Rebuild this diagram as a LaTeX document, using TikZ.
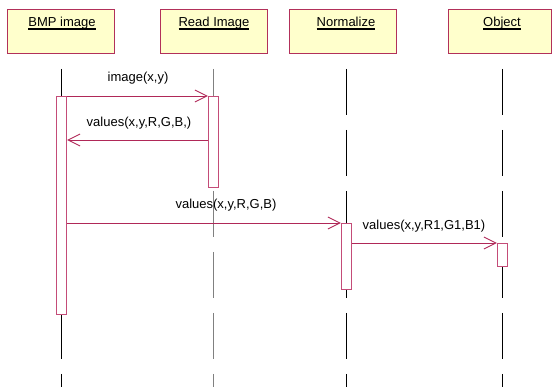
\documentclass[tikz,border=0pt]{standalone}
\usepackage{fontspec}
\setmainfont{Liberation Sans}
\usetikzlibrary{arrows.meta}
\definecolor{boxfill}{HTML}{FFFFCC}
\definecolor{boxline}{HTML}{B2305A}
\definecolor{actline}{HTML}{C44C78}
\definecolor{msgcol}{HTML}{B02858}
\definecolor{grayline}{HTML}{808080}
\newcommand{\myul}[1]{\setbox0\hbox{#1}\rlap{\rule[-2.6pt]{\wd0}{1.3pt}}\box0}
\tikzset{
  objbox/.style={draw=boxline, fill=boxfill, line width=1.1pt, minimum width=107pt, minimum height=44pt, inner sep=0pt, anchor=north west},
  objlabel/.style={font=\fontsize{13}{15}\selectfont, inner sep=0pt, anchor=base},
  lifeline/.style={line width=0.9pt, dash pattern=on 46pt off 15pt},
  actbox/.style={draw=actline, fill=white, line width=1.1pt, minimum width=10pt, inner sep=0pt, anchor=north},
  msg/.style={draw=msgcol, line width=0.9pt, -{Straight Barb[length=12pt,width=12pt,line width=0.9pt]}},
  msglabel/.style={font=\fontsize{13}{15}\selectfont, inner sep=0pt, anchor=base}
}
\begin{document}
\begin{tikzpicture}[x=1pt,y=-1pt]
\useasboundingbox (0,0) rectangle (552,387);
% object boxes
\node[objbox] (bmp) at (7,9) {};
\node[objbox] (read) at (160,9) {};
\node[objbox] (norm) at (289,9) {};
\node[objbox, minimum width=103.5pt] (obj) at (447.5,9) {};
\node[objlabel] (bmpl) at (62,27) {\myul{BMP image}};
\node[objlabel] (readl) at (214,27) {\myul{Read Image}};
\node[objlabel] (norml) at (346,27) {\myul{Normalize}};
\node[objlabel] (objl) at (502,27) {\myul{Object}};
% lifeline ends
\coordinate (t1) at (61.5,69); \coordinate (b1) at (61.5,387);
\coordinate (t2) at (213.5,69); \coordinate (b2) at (213.5,387);
\coordinate (t3) at (346.5,69); \coordinate (b3) at (346.5,387);
\coordinate (t4) at (502.5,69); \coordinate (b4) at (502.5,387);
\draw[lifeline] (t1) -- (b1);
\draw[lifeline, grayline] (t2) -- (b2);
\draw[lifeline] (t3) -- (b3);
\draw[lifeline] (t4) -- (b4);
% activations
\node[actbox, minimum height=218pt] (a1) at (61.5,96) {};
\node[actbox, minimum height=91pt] (a2) at (213.5,96) {};
\node[actbox, minimum height=66pt] (a3) at (346.5,223) {};
\node[actbox, minimum height=23pt] (a4) at (502.5,243) {};
% messages
\coordinate (m2) at (0,140);
\coordinate (m4) at (0,243);
\draw[msg] (a1.north east) -- (a2.north west);
\draw[msg] (a2.west |- m2) -- (a1.east |- m2);
\draw[msg] (a1.east |- a3.north) -- (a3.north west);
\draw[msg] (a3.east |- m4) -- (a4.north west);
\node[msglabel] (l1) at (138,82) {image(x,y)};
\node[msglabel] (l2) at (139,127) {values(x,y,R,G,B,)};
\node[msglabel] (l3) at (226,209) {values(x,y,R,G,B)};
\node[msglabel] (l4) at (424,230) {values(x,y,R1,G1,B1)};
\end{tikzpicture}
\end{document}
